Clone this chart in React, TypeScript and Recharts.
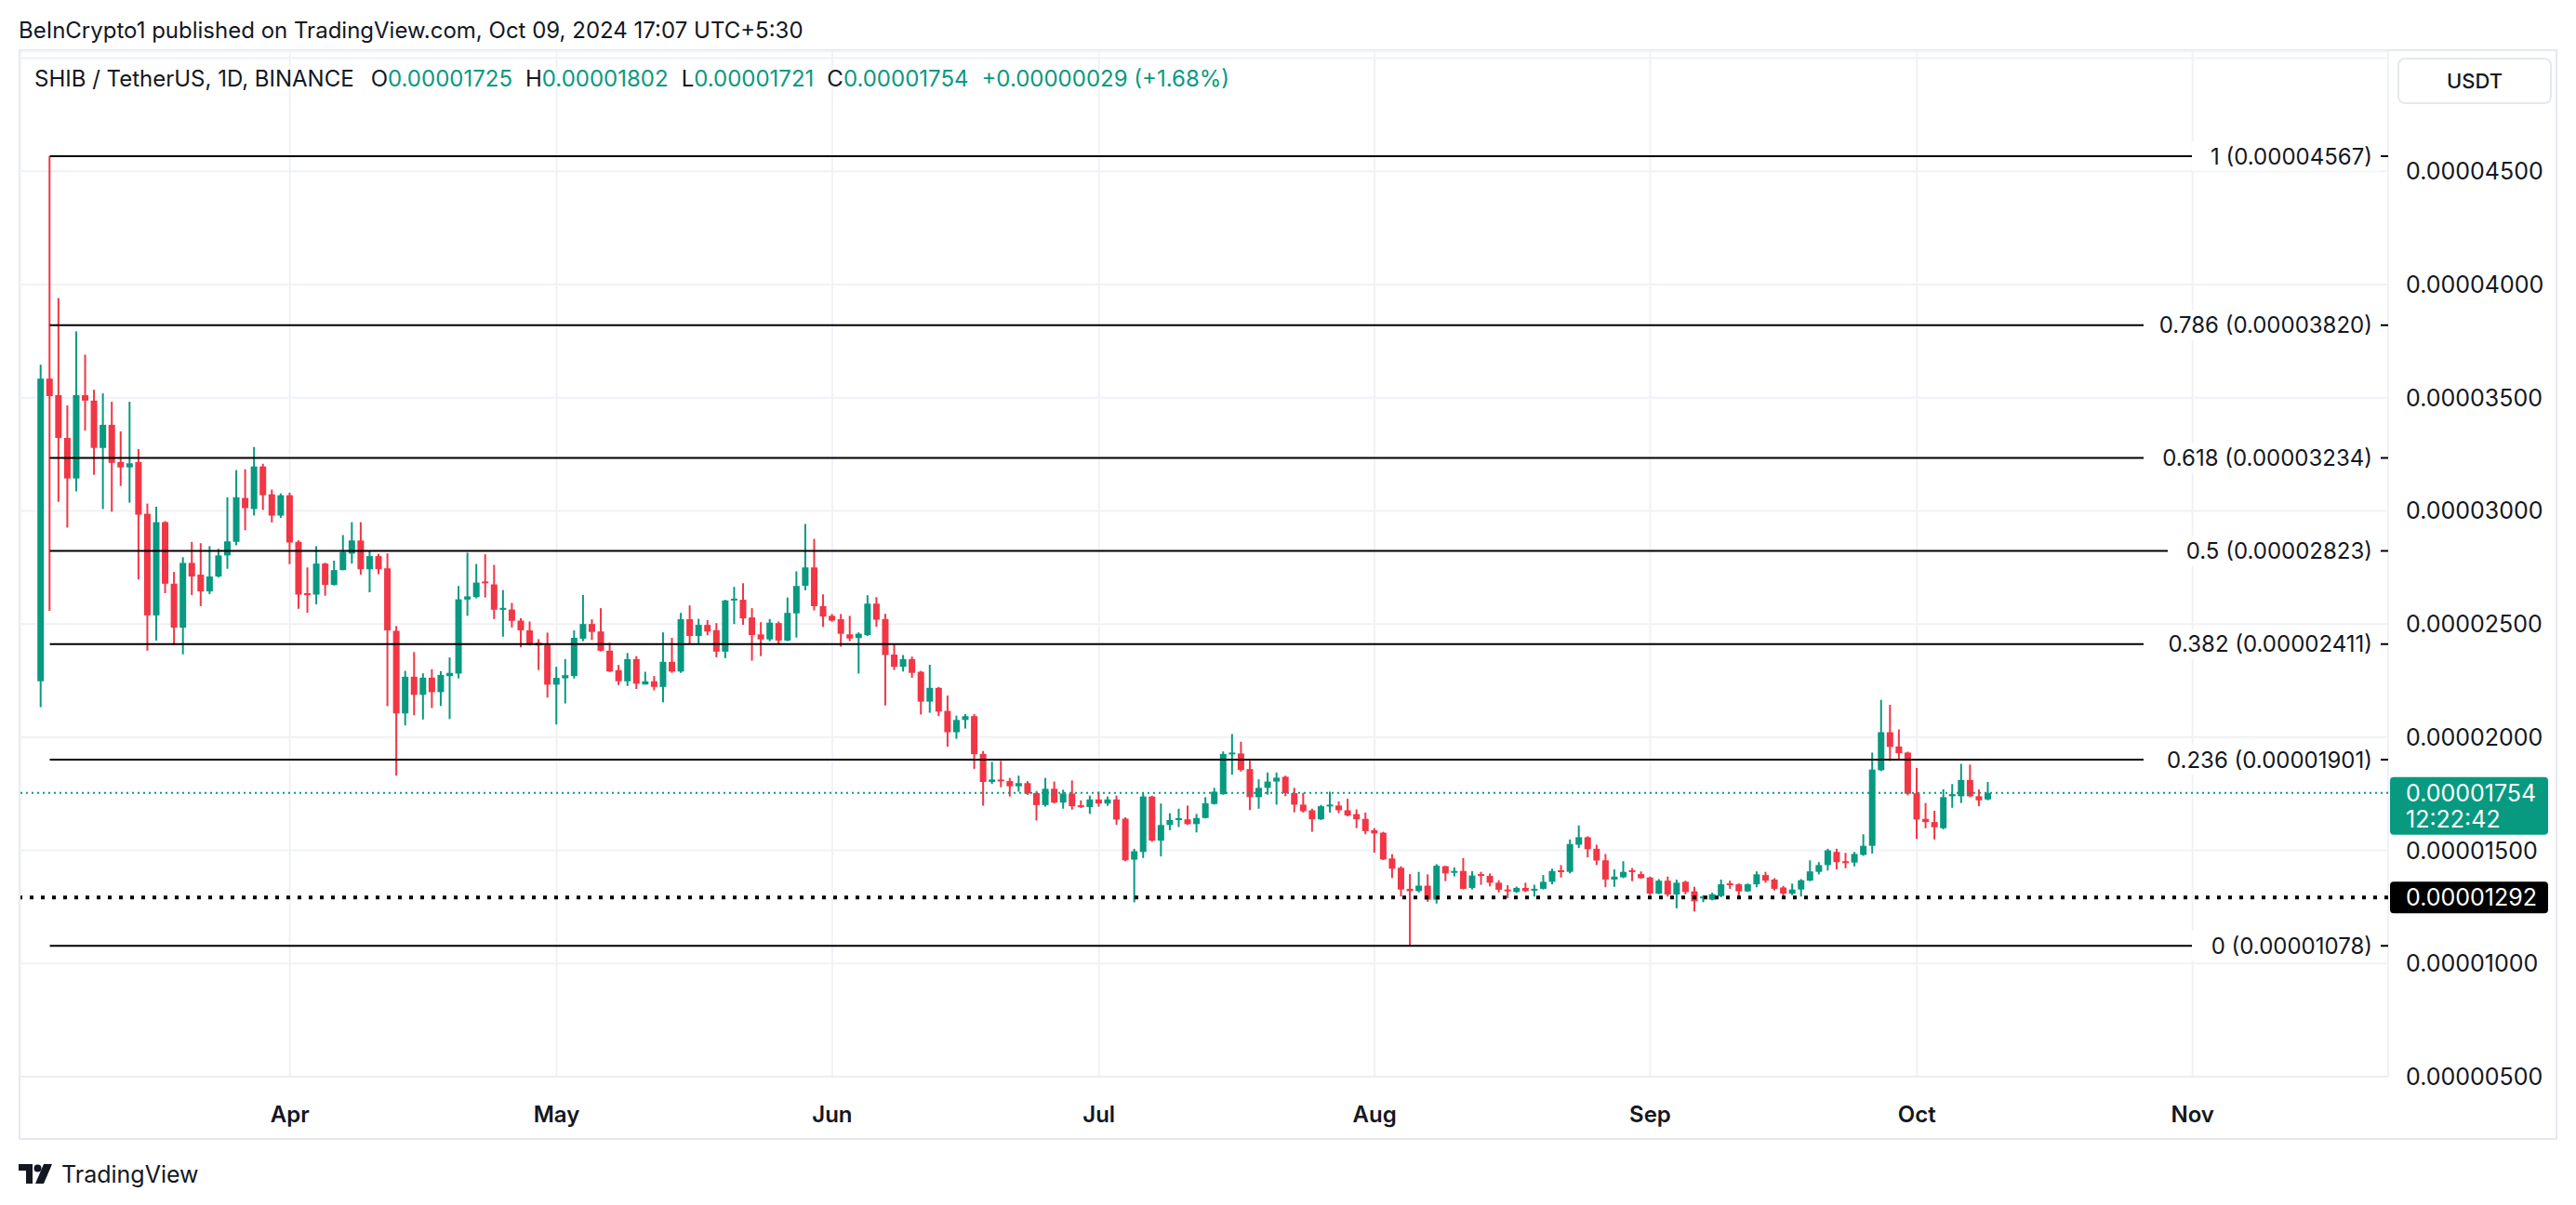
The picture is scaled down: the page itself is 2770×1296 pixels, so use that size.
import { ComposedChart, Bar, XAxis, YAxis, CartesianGrid, ReferenceLine } from "recharts";

// SHIB/USDT daily candles, prices in 1e-8 USDT: [open, high, low, close]
const START = Date.UTC(2024, 2, 4); // first candle: Mar 4, 2024

const march = [
  [2247, 3646, 2133, 3584], [3584, 4567, 2558, 3507], [3511, 3940, 3040, 3322], [3322, 3466, 2926, 3143],
  [3143, 3793, 3086, 3511], [3511, 3690, 3355, 3487], [3487, 3535, 3159, 3278], [3278, 3519, 3008, 3380],
  [3380, 3482, 2996, 3212], [3216, 3351, 3110, 3192], [3192, 3482, 3036, 3210], [3216, 3273, 2697, 2983],
  [2987, 3032, 2382, 2538], [2538, 3018, 2427, 2950], [2950, 2955, 2636, 2678], [2678, 2730, 2407, 2484],
  [2484, 2795, 2366, 2770], [2770, 2863, 2628, 2710], [2718, 2857, 2579, 2644], [2644, 2844, 2632, 2710],
  [2710, 2832, 2706, 2803], [2803, 3060, 2744, 2865], [2863, 3180, 2848, 3060], [3057, 3184, 2914, 3012],
  [3008, 3282, 2979, 3196], [3196, 3208, 3004, 3069], [3073, 3094, 2949, 2979], [2979, 3077, 2969, 3069],
];

const april = [
  [3069, 3080, 2764, 2860], [2863, 2870, 2567, 2630], [2636, 2750, 2550, 2630], [2630, 2844, 2587, 2767],
  [2767, 2771, 2625, 2673], [2673, 2780, 2670, 2738], [2738, 2893, 2738, 2818], [2811, 2950, 2767, 2869],
  [2869, 2950, 2718, 2742], [2742, 2824, 2640, 2800], [2800, 2810, 2720, 2742], [2746, 2812, 2137, 2472],
  [2470, 2491, 1830, 2105], [2105, 2293, 2052, 2267], [2267, 2376, 2097, 2187], [2187, 2282, 2078, 2263],
  [2263, 2300, 2129, 2199], [2199, 2292, 2138, 2275], [2270, 2352, 2080, 2284], [2281, 2668, 2260, 2609],
  [2608, 2815, 2536, 2622], [2619, 2765, 2613, 2683], [2688, 2808, 2617, 2680], [2675, 2761, 2522, 2563],
  [2563, 2650, 2444, 2571], [2564, 2593, 2485, 2514], [2515, 2526, 2397, 2472], [2472, 2511, 2405, 2413],
  [2417, 2433, 2297, 2405], [2408, 2462, 2175, 2232],
];

const may = [
  [2232, 2311, 2056, 2262], [2260, 2345, 2149, 2274], [2270, 2472, 2259, 2439], [2435, 2628, 2424, 2500],
  [2500, 2521, 2429, 2465], [2467, 2570, 2379, 2382], [2382, 2417, 2288, 2290], [2296, 2319, 2230, 2247],
  [2247, 2372, 2226, 2345], [2345, 2358, 2213, 2236], [2233, 2289, 2232, 2247], [2247, 2270, 2207, 2222],
  [2222, 2463, 2154, 2333], [2333, 2439, 2284, 2290], [2290, 2549, 2284, 2521], [2521, 2582, 2413, 2447],
  [2447, 2523, 2413, 2496], [2496, 2517, 2450, 2467], [2473, 2504, 2353, 2378], [2378, 2607, 2349, 2604],
  [2604, 2664, 2500, 2612], [2607, 2680, 2496, 2525], [2529, 2570, 2338, 2451], [2454, 2508, 2358, 2432],
  [2432, 2522, 2424, 2506], [2504, 2511, 2409, 2427], [2427, 2617, 2424, 2549], [2547, 2733, 2440, 2668],
  [2669, 2942, 2649, 2750], [2750, 2876, 2560, 2579], [2579, 2631, 2487, 2533],
];

const june = [
  [2536, 2544, 2510, 2515], [2521, 2544, 2400, 2457], [2454, 2536, 2424, 2436], [2438, 2463, 2281, 2457],
  [2451, 2627, 2447, 2590], [2590, 2619, 2488, 2519], [2522, 2545, 2140, 2363], [2365, 2410, 2297, 2311],
  [2311, 2363, 2290, 2345], [2345, 2356, 2263, 2284], [2289, 2293, 2100, 2157], [2157, 2320, 2108, 2218],
  [2218, 2222, 2093, 2113], [2116, 2184, 1958, 2022], [2022, 2095, 1993, 2076], [2076, 2102, 2038, 2093],
  [2093, 2102, 1860, 1925], [1926, 1939, 1697, 1802], [1802, 1891, 1793, 1813], [1813, 1895, 1779, 1806],
  [1806, 1820, 1738, 1783], [1783, 1830, 1759, 1797], [1797, 1806, 1745, 1751], [1753, 1762, 1632, 1700],
  [1700, 1820, 1693, 1772], [1772, 1804, 1707, 1711], [1711, 1768, 1684, 1751], [1751, 1809, 1680, 1695],
  [1699, 1721, 1687, 1691], [1691, 1742, 1661, 1725],
];

const july = [
  [1725, 1759, 1693, 1707], [1707, 1738, 1697, 1725], [1725, 1742, 1612, 1636], [1640, 1646, 1452, 1456],
  [1459, 1507, 1270, 1496], [1493, 1755, 1466, 1738], [1738, 1741, 1538, 1543], [1543, 1707, 1473, 1612],
  [1612, 1664, 1589, 1634], [1634, 1684, 1603, 1642], [1637, 1698, 1612, 1616], [1616, 1661, 1579, 1643],
  [1643, 1735, 1641, 1708], [1705, 1776, 1702, 1759], [1748, 1937, 1746, 1926], [1926, 2014, 1834, 1932],
  [1928, 1980, 1848, 1855], [1859, 1896, 1678, 1735], [1735, 1814, 1684, 1776], [1776, 1844, 1746, 1804],
  [1804, 1844, 1702, 1821], [1825, 1830, 1739, 1753], [1753, 1776, 1668, 1702], [1702, 1754, 1667, 1673],
  [1677, 1684, 1582, 1637], [1637, 1701, 1634, 1695], [1695, 1759, 1667, 1702], [1698, 1716, 1664, 1677],
  [1677, 1728, 1650, 1654], [1660, 1681, 1598, 1637], [1639, 1667, 1571, 1585],
];

const august = [
  [1589, 1598, 1490, 1575], [1578, 1582, 1457, 1460], [1464, 1483, 1378, 1419], [1423, 1430, 1296, 1327],
  [1330, 1395, 1078, 1320], [1320, 1405, 1314, 1344], [1344, 1394, 1273, 1282], [1282, 1439, 1265, 1432],
  [1430, 1432, 1364, 1398], [1405, 1425, 1385, 1409], [1409, 1466, 1327, 1330], [1334, 1408, 1327, 1389],
  [1395, 1405, 1348, 1389], [1387, 1398, 1341, 1357], [1357, 1368, 1314, 1326], [1327, 1346, 1289, 1323],
  [1316, 1340, 1312, 1334], [1334, 1357, 1316, 1320], [1323, 1348, 1296, 1330], [1330, 1391, 1327, 1361],
  [1361, 1419, 1350, 1409], [1412, 1435, 1380, 1405], [1405, 1548, 1398, 1528], [1525, 1610, 1510, 1558],
  [1558, 1562, 1469, 1505], [1507, 1525, 1435, 1455], [1456, 1484, 1337, 1371], [1371, 1416, 1339, 1384],
  [1381, 1452, 1377, 1405], [1412, 1422, 1364, 1405], [1395, 1407, 1375, 1377],
];

const september = [
  [1380, 1384, 1302, 1309], [1309, 1373, 1306, 1366], [1366, 1384, 1296, 1305], [1305, 1371, 1244, 1357],
  [1361, 1366, 1306, 1316], [1319, 1339, 1230, 1275], [1289, 1302, 1271, 1296], [1282, 1313, 1279, 1306],
  [1298, 1371, 1293, 1350], [1354, 1366, 1330, 1347], [1350, 1354, 1292, 1319], [1319, 1354, 1316, 1350],
  [1350, 1407, 1337, 1394], [1391, 1405, 1357, 1366], [1371, 1377, 1323, 1330], [1336, 1343, 1300, 1309],
  [1309, 1353, 1302, 1327], [1327, 1373, 1296, 1368], [1366, 1456, 1364, 1407], [1405, 1448, 1394, 1435],
  [1435, 1507, 1411, 1500], [1493, 1507, 1416, 1448], [1452, 1489, 1421, 1446], [1446, 1493, 1429, 1484],
  [1480, 1571, 1476, 1520], [1520, 1932, 1486, 1857], [1854, 2165, 1850, 2022], [2022, 2143, 1895, 1957],
  [1959, 2034, 1902, 1929], [1932, 1936, 1743, 1750],
];

const october = [
  [1752, 1864, 1550, 1636], [1639, 1709, 1598, 1625], [1625, 1675, 1548, 1602], [1598, 1770, 1593, 1735],
  [1739, 1793, 1688, 1748], [1739, 1882, 1709, 1811], [1811, 1879, 1735, 1739], [1739, 1769, 1695, 1721],
  [1725, 1802, 1721, 1754],
];

const fibLevels = [
  { ratio: "1", price: 4567 },
  { ratio: "0.786", price: 3820 },
  { ratio: "0.618", price: 3234 },
  { ratio: "0.5", price: 2823 },
  { ratio: "0.382", price: 2411 },
  { ratio: "0.236", price: 1901 },
  { ratio: "0", price: 1078 },
];

const priceTicks = [500, 1000, 1500, 2000, 2500, 3000, 3500, 4000, 4500, 5000];
const monthLabels = ["Apr", "May", "Jun", "Jul", "Aug", "Sep", "Oct", "Nov"];
const monthStarts = [3, 4, 5, 6, 7, 8, 9, 10]; // zero-based months of 2024

const lastPrice = 1754;
const supportPrice = 1292;
const countdown = "12:22:42";

const GREEN = "#089981";
const RED = "#F23645";
const TEXT = "#131722";
const FONT = "Inter, 'Noto Sans', sans-serif";

const DAY = 86400000;
const candles = [march, april, may, june, july, august, september, october]
  .flat()
  .map(([open, high, low, close], i) => ({ t: i, open, high, low, close, range: [low, high] }));
const lastT = candles.length - 1;
const monthTicks = monthStarts.map((m) => (Date.UTC(2024, m, 1) - START) / DAY);
const X_MIN = -2.3;
const X_MAX = lastT + 45;

const fmt = (v: number) => (v / 1e8).toFixed(8);

const Candle = (props: any) => {
  const { x, y, width, height, payload } = props;
  if (x == null || y == null || !payload) return null;
  const { open, high, low, close } = payload;
  const color = close >= open ? GREEN : RED;
  const span = high - low || 1;
  const py = (v: number) => y + ((high - v) / span) * height;
  const top = py(Math.max(open, close));
  const bot = py(Math.min(open, close));
  const cx = x + width / 2;
  return (
    <g>
      <line x1={cx} x2={cx} y1={y} y2={y + height} stroke={color} strokeWidth={2} />
      <rect x={x} y={top} width={width} height={Math.max(bot - top, 2)} fill={color} />
    </g>
  );
};

const FibLabel = (props: any) => {
  const { viewBox, text } = props;
  if (!viewBox) return null;
  const right = viewBox.x + viewBox.width - 17;
  const w = text.length * 13 + 2;
  return (
    <g>
      <rect x={right - w - 10} y={viewBox.y - 16} width={w + 19} height={32} fill="#fff" />
      <text x={right} y={viewBox.y} dy="0.36em" textAnchor="end" fontSize={24} fill={TEXT}>
        {text}
      </text>
    </g>
  );
};

const PriceTag = (props: any) => {
  const { viewBox, value, fill, sub } = props;
  if (!viewBox) return null;
  const x = viewBox.x + viewBox.width + 2;
  const y = viewBox.y;
  const h = sub ? 62 : 34;
  return (
    <g>
      <rect x={x} y={y - 17} width={170} height={h} rx={4} fill={fill} />
      <text x={x + 17} y={y} dy="0.36em" fontSize={25} fill="#fff">
        {value}
      </text>
      {sub && (
        <text x={x + 17} y={y + 28} dy="0.36em" fontSize={25} fill="#fff">
          {sub}
        </text>
      )}
    </g>
  );
};

const PriceTick = (props: any) => {
  const { x, y, payload } = props;
  if (payload.value === 5000) return null;
  return (
    <text x={x} y={y} dy="0.36em" fontSize={25} fill={TEXT} textAnchor="start">
      {fmt(payload.value)}
    </text>
  );
};

const TvLogo = () => (
  <svg width={40} height={22} viewBox="0 0 40 22">
    <path d="M0 0h15v21H8V7H0z" fill={TEXT} />
    <circle cx={20.5} cy={4.5} r={4} fill={TEXT} />
    <path d="M27 0h9l-9 21h-9z" fill={TEXT} />
  </svg>
);

export default function App() {
  return (
    <div style={{ position: "absolute", left: 0, top: 0, width: 2770, height: 1296, background: "#fff", fontFamily: FONT, color: TEXT }}>
      <div style={{ position: "absolute", left: 20, top: 19, fontSize: 24, lineHeight: "28px", whiteSpace: "nowrap" }}>
        BeInCrypto1 published on TradingView.com, Oct 09, 2024 17:07 UTC+5:30
      </div>

      <div style={{ position: "absolute", left: 20, top: 53, width: 2726, height: 1169, border: "2px solid #e6e8ee" }} />

      <ComposedChart
        width={2770}
        height={1296}
        data={candles}
        margin={{ top: 55, right: 22, bottom: 72, left: 22 }}
        style={{ position: "absolute", left: 0, top: 0 }}
      >
        <CartesianGrid stroke="#f0f2f6" strokeWidth={2} />
        <XAxis
          dataKey="t"
          type="number"
          domain={[X_MIN, X_MAX]}
          allowDataOverflow
          ticks={monthTicks}
          interval={0}
          tickFormatter={(v: number) => monthLabels[monthTicks.indexOf(v)] ?? ""}
          tickLine={false}
          axisLine={{ stroke: "#eceef2", strokeWidth: 2 }}
          tickMargin={26}
          height={66}
          tick={{ fontSize: 24, fontWeight: 600, fill: TEXT }}
        />
        <YAxis
          orientation="right"
          type="number"
          domain={[500, 5031]}
          allowDataOverflow
          ticks={priceTicks}
          interval={0}
          width={180}
          axisLine={false}
          tickLine={false}
          tickMargin={13}
          tick={<PriceTick />}
        />
        {fibLevels.map((f) => (
          <ReferenceLine
            key={f.ratio}
            segment={[
              { x: 1, y: f.price },
              { x: X_MAX, y: f.price },
            ]}
            stroke="#000"
            strokeWidth={2}
            ifOverflow="visible"
            label={<FibLabel text={`${f.ratio} (${fmt(f.price)})`} />}
          />
        ))}
        <ReferenceLine y={supportPrice} stroke="#000" strokeWidth={4} strokeDasharray="4 8" ifOverflow="visible" />
        <ReferenceLine y={lastPrice} stroke={GREEN} strokeWidth={2} strokeDasharray="2 4" ifOverflow="visible" />
        <Bar dataKey="range" barSize={7} shape={<Candle />} isAnimationActive={false} />
        <ReferenceLine
          y={supportPrice}
          stroke="none"
          ifOverflow="visible"
          label={<PriceTag value={fmt(supportPrice)} fill="#000" />}
        />
        <ReferenceLine
          y={lastPrice}
          stroke="none"
          ifOverflow="visible"
          label={<PriceTag value={fmt(lastPrice)} sub={countdown} fill={GREEN} />}
        />
      </ComposedChart>

      <div style={{ position: "absolute", left: 37, top: 71, fontSize: 24, lineHeight: "28px", whiteSpace: "nowrap", display: "flex" }}>
        <span style={{ marginRight: 18 }}>SHIB / TetherUS, 1D, BINANCE</span>
        <span>O</span>
        <span style={{ color: GREEN, marginRight: 14 }}>0.00001725</span>
        <span>H</span>
        <span style={{ color: GREEN, marginRight: 14 }}>0.00001802</span>
        <span>L</span>
        <span style={{ color: GREEN, marginRight: 14 }}>0.00001721</span>
        <span>C</span>
        <span style={{ color: GREEN, marginRight: 14 }}>0.00001754</span>
        <span style={{ color: GREEN }}>+0.00000029 (+1.68%)</span>
      </div>

      <div
        style={{
          position: "absolute",
          left: 2578,
          top: 62,
          width: 162,
          height: 46,
          border: "2px solid #e6e8ee",
          borderRadius: 8,
          background: "#fff",
          display: "flex",
          alignItems: "center",
          justifyContent: "center",
          fontSize: 22,
          fontWeight: 500,
        }}
      >
        USDT
      </div>

      <div style={{ position: "absolute", left: 20, top: 1250, display: "flex", alignItems: "center", gap: 6 }}>
        <TvLogo />
        <span style={{ fontSize: 25, lineHeight: "26px" }}>TradingView</span>
      </div>
    </div>
  );
}
